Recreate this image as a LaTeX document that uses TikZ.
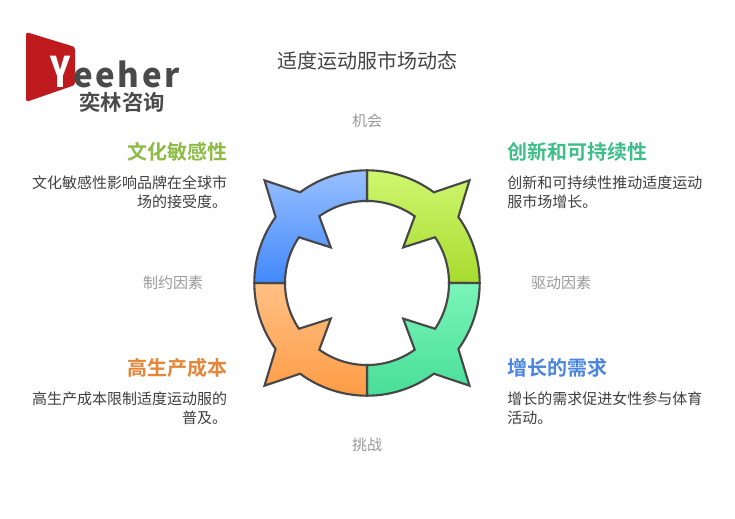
\documentclass[tikz,border=0pt]{standalone}
\usepackage{fontspec}
\setmainfont[BoldFont={Noto Sans CJK SC Bold}]{Noto Sans CJK SC}
\newfontfamily\logofont[LetterSpace=8]{Noto Sans CJK SC Black}
\newfontfamily\logoY{Noto Sans CJK SC Black}
\definecolor{gtop}{HTML}{CFF76F}\definecolor{gbot}{HTML}{A7DB2F}
\definecolor{mtop}{HTML}{7AF5B8}\definecolor{mbot}{HTML}{48DE98}
\definecolor{otop}{HTML}{FFC085}\definecolor{obot}{HTML}{FF9C45}
\definecolor{btop}{HTML}{98BFFF}\definecolor{bbot}{HTML}{4289FB}
\definecolor{edge}{HTML}{474747}
\definecolor{logored}{HTML}{BF1B1F}\definecolor{logogray}{HTML}{4A4A4A}
\definecolor{hgreen}{HTML}{8DBB45}\definecolor{hmint}{HTML}{3DBE8B}
\definecolor{hblue}{HTML}{4A86E0}\definecolor{horange}{HTML}{E5873A}
\definecolor{bodyc}{HTML}{3F3F3F}\definecolor{axisc}{HTML}{999999}\definecolor{titlec}{HTML}{444444}
\tikzset{
 x=0.75pt,y=-0.75pt,
 petal/.style={draw=edge,line width=1.6pt,line join=miter,miter limit=10},
 titletext/.style={font=\fontsize{15pt}{18pt}\selectfont,text=titlec,inner sep=0pt},
 axistext/.style={font=\fontsize{11.25pt}{14pt}\selectfont,text=axisc,inner sep=0pt},
 headtext/.style={font=\fontsize{15pt}{18pt}\selectfont\bfseries,inner sep=0pt},
 bodyl/.style={font=\fontsize{11.25pt}{14pt}\selectfont,text=bodyc,inner sep=0pt,align=left,anchor=west},
 bodyr/.style={font=\fontsize{11.25pt}{14pt}\selectfont,text=bodyc,inner sep=0pt,align=right,anchor=east},
 logotext/.style={inner sep=0pt,anchor=south west},
}
\newcommand{\petalshape}[4]{%
 \begin{scope}[shift={(367,283)}]
 \begin{scope}[x=0.75pt,y=0.75pt,xscale=#1,yscale=#2]
 \path[petal,top color=#3,bottom color=#4]
  (0,112.7) arc[start angle=90,end angle=53.6,radius=84.5pt]
  -- (102.5,102.7) -- (91.4,66)
  arc[start angle=35.8,end angle=0,radius=84.5pt]
  -- (82,0)
  arc[start angle=0,end angle=33.9,radius=61.5pt]
  -- (36.2,35.6) -- (47.7,66.7)
  arc[start angle=54.4,end angle=90,radius=61.5pt]
  -- cycle;
 \end{scope}\end{scope}}
\begin{document}
\begin{tikzpicture}
\path[use as bounding box,fill=white] (0,0) rectangle (735,518);
% logo
\fill[logored,rounded corners=2pt] (26,32) -- (75,47) -- (75,85) -- (26,102) -- cycle;
\node[logotext,text=white] (logoy) at (50,88) {\resizebox{15pt}{23.5pt}{\logoY Y}};
\node[logotext,text=logogray] (logoname) at (73,88) {\resizebox{80pt}{20pt}{\logofont eeher}};
\node[inner sep=0pt,text=logogray,font=\fontsize{16pt}{16pt}\selectfont\bfseries] (logocn) at (122,102) {奕林咨询};
% title and axis
\node[titletext] (title) at (367,61) {适度运动服市场动态};
\node[axistext] (opp) at (367,120.5) {机会};
\node[axistext] (chal) at (367,445) {挑战};
\node[axistext] (restr) at (173,283) {制约因素};
\node[axistext] (driv) at (561,283) {驱动因素};
% ring
\petalshape{1}{1}{gtop}{gbot}
\petalshape{1}{-1}{mtop}{mbot}
\petalshape{-1}{-1}{otop}{obot}
\petalshape{-1}{1}{btop}{bbot}
% labels
\node[headtext,text=hgreen,anchor=east] (h1) at (228,151.5) {文化敏感性};
\node[bodyr] (b1) at (227.5,192.5) {文化敏感性影响品牌在全球市\\场的接受度。};
\node[headtext,text=hmint,anchor=west] (h2) at (507,151.5) {创新和可持续性};
\node[bodyl] (b2) at (507,192.5) {创新和可持续性推动适度运动\\服市场增长。};
\node[headtext,text=horange,anchor=east] (h3) at (228,367.5) {高生产成本};
\node[bodyr] (b3) at (227.5,408.5) {高生产成本限制适度运动服的\\普及。};
\node[headtext,text=hblue,anchor=west] (h4) at (507,367.5) {增长的需求};
\node[bodyl] (b4) at (507,408.5) {增长的需求促进女性参与体育\\活动。};
\end{tikzpicture}
\end{document}
